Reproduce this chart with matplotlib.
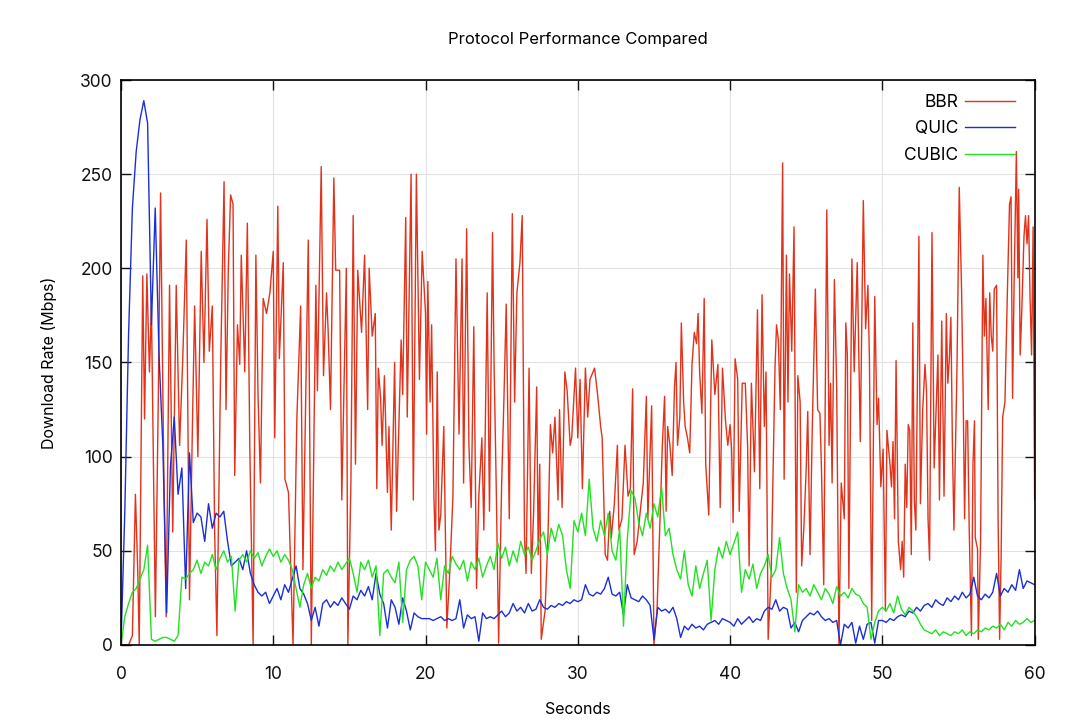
import numpy as np
import matplotlib
matplotlib.use("Agg")
import matplotlib.pyplot as plt

plt.rcParams['font.family'] = ['Inter', 'DejaVu Sans']

# BBR: times (s) and rates (Mbps), segment by segment
bbr_t = [
    0, 0.5, 0.75, 0.95, 1.1, 1.2, 1.43, 1.55, 1.7, 1.87, 2.0, 2.26, 2.45, 2.6, 2.8, 2.97, 3.19, 3.4, 3.63, 3.85,
    4.05, 4.29, 4.5, 4.7, 4.84, 5.05, 5.27, 5.45, 5.65, 5.8, 6.0, 6.15, 6.3, 6.55, 6.77, 6.9, 7.05, 7.2, 7.36, 7.47,
    7.65, 7.8, 7.9, 8.13, 8.3, 8.46, 8.68, 8.86, 9.0, 9.16, 9.34, 9.56, 9.78,
    10.0, 10.1, 10.3, 10.4, 10.66, 10.77, 11.0, 11.3, 11.55, 11.8, 11.95, 12.3, 12.5, 12.8, 12.9, 13.15, 13.3, 13.5,
    13.6, 13.76, 13.98, 14.1, 14.36, 14.5, 14.8, 14.9, 15.1, 15.25, 15.4, 15.55, 15.8, 16.0, 16.2, 16.3, 16.5, 16.7,
    16.8, 16.9, 17.05, 17.15, 17.3, 17.5, 17.6, 17.75, 17.97, 18.1, 18.4, 18.5, 18.7, 18.8, 19.05, 19.2, 19.4, 19.6, 19.78,
    20.0, 20.07, 20.15, 20.3, 20.4, 20.55, 20.65, 20.77, 20.88, 21.0, 21.2, 21.4, 21.6, 21.8, 22.0, 22.2, 22.4, 22.5,
    22.7, 22.85, 23.0, 23.17, 23.35, 23.5, 23.7, 23.83, 24.05, 24.2, 24.4, 24.5, 24.65, 24.8, 25.0, 25.15, 25.3, 25.5,
    25.7, 25.85, 26.0, 26.2, 26.35, 26.5, 26.6, 26.8, 26.95, 27.1, 27.3, 27.4, 27.5, 27.6, 27.85, 28.05, 28.2, 28.35,
    28.5, 28.7, 28.8, 28.97, 29.15, 29.3, 29.5, 29.6, 29.85,
    30.0, 30.15, 30.3, 30.5, 30.65, 30.8, 31.0, 31.1, 31.3, 31.5, 31.6, 31.8, 31.95, 32.1, 32.2, 32.4, 32.6, 32.7,
    32.9, 33.1, 33.3, 33.45, 33.6, 33.7, 33.9, 34.1, 34.3, 34.5, 34.6, 34.85, 35.0, 35.2, 35.4, 35.55, 35.7, 35.8,
    35.9, 36.05, 36.2, 36.35, 36.45, 36.55, 36.7, 36.8, 36.95, 37.05, 37.2, 37.35, 37.5, 37.65, 37.8, 37.9, 38.0,
    38.15, 38.3, 38.4, 38.6, 38.8, 39.0, 39.2, 39.35, 39.5, 39.7, 39.85,
    40.0, 40.1, 40.2, 40.33, 40.5, 40.6, 40.8, 41.0, 41.15, 41.25, 41.4, 41.6, 41.8, 41.95, 42.1, 42.25, 42.36, 42.5,
    42.7, 42.85, 42.95, 43.05, 43.17, 43.3, 43.45, 43.55, 43.7, 43.8, 43.9, 44.05, 44.2, 44.35, 44.45, 44.6, 44.7,
    44.85, 45.0, 45.1, 45.25, 45.4, 45.6, 45.75, 45.9, 46.0, 46.15, 46.35, 46.5, 46.6, 46.7, 46.85, 47.0, 47.15, 47.3,
    47.5, 47.6, 47.7, 47.8, 48.0, 48.15, 48.35, 48.55, 48.65, 48.75, 48.9, 49.05, 49.15, 49.3, 49.5, 49.65, 49.75, 49.9,
    50.05, 50.2, 50.3, 50.5, 50.6, 50.7, 50.8, 50.9, 51.05, 51.2, 51.3, 51.4, 51.5, 51.6, 51.7, 51.8, 51.9, 52.0,
    52.1, 52.2, 52.4, 52.5, 52.65, 52.8, 52.9, 53.0, 53.1, 53.26, 53.4, 53.55, 53.65, 53.75, 53.9, 54.05, 54.2, 54.3,
    54.4, 54.5, 54.6, 54.7, 54.9, 55.05, 55.2, 55.3, 55.4, 55.5, 55.6, 55.7, 55.85, 55.95, 56.05, 56.1, 56.25, 56.3,
    56.45, 56.6, 56.7, 56.8, 56.95, 57.05, 57.15, 57.25, 57.35, 57.5, 57.6, 57.7, 57.8, 57.9, 58.05, 58.2, 58.35,
    58.45, 58.55, 58.65, 58.8, 58.9, 58.95, 59.05, 59.15, 59.3, 59.4, 59.5, 59.6, 59.7, 59.8, 59.9, 60.0,
]
bbr_v = [
    0, 0, 5, 80, 40, 0, 196, 120, 197, 145, 180, 15, 130, 240, 100, 15, 191, 60, 191, 106,
    150, 215, 24, 120, 180, 100, 209, 150, 226, 156, 180, 61, 5, 150, 246, 125, 200, 239, 234, 90,
    170, 149, 207, 145, 224, 106, 0, 207, 133, 86, 184, 176, 187,
    209, 110, 233, 152, 203, 88, 81, 0, 120, 180, 40, 215, 0, 191, 135, 254, 143, 187,
    168, 125, 248, 199, 199, 77, 200, 0, 86, 228, 96, 199, 166, 207, 125, 200, 164, 176,
    83, 147, 131, 106, 143, 81, 116, 61, 150, 71, 162, 133, 227, 121, 250, 77, 250, 141, 209,
    176, 112, 193, 129, 170, 79, 50, 145, 61, 69, 116, 9, 40, 79, 205, 112, 205, 86,
    221, 106, 73, 169, 30, 79, 110, 61, 187, 71, 219, 150, 81, 1, 86, 131, 181, 67,
    229, 129, 187, 203, 228, 57, 38, 147, 38, 71, 137, 48, 96, 3, 18, 60, 117, 102,
    121, 77, 125, 73, 145, 135, 106, 110, 147,
    110, 141, 83, 147, 121, 141, 145, 147, 133, 116, 110, 48, 45, 71, 57, 75, 106, 61,
    67, 106, 79, 83, 136, 48, 55, 71, 86, 132, 67, 127, 0, 18, 67, 106, 132, 71,
    116, 106, 90, 137, 150, 106, 121, 171, 129, 116, 110, 102, 149, 166, 160, 176, 145,
    123, 184, 96, 69, 162, 133, 149, 73, 147, 119, 106,
    117, 104, 65, 152, 141, 71, 139, 139, 106, 42, 139, 92, 178, 83, 186, 116, 145, 3,
    38, 102, 147, 170, 162, 125, 256, 88, 207, 129, 197, 156, 222, 28, 143, 129, 42,
    63, 94, 124, 48, 116, 189, 125, 123, 94, 32, 231, 106, 139, 86, 194, 137, 0, 86,
    67, 171, 154, 30, 205, 145, 203, 108, 172, 236, 168, 191, 152, 13, 185, 117, 131, 84,
    104, 18, 114, 96, 84, 108, 67, 151, 55, 40, 55, 36, 96, 73, 117, 114, 48, 171,
    77, 61, 217, 75, 125, 149, 135, 67, 45, 219, 94, 129, 154, 77, 172, 79, 176, 139,
    152, 174, 106, 61, 147, 243, 189, 137, 67, 119, 119, 63, 5, 96, 119, 57, 51, 3,
    55, 207, 164, 184, 125, 187, 164, 156, 189, 191, 67, 3, 48, 121, 129, 184, 234,
    238, 131, 191, 262, 195, 242, 154, 176, 217, 228, 213, 228, 184, 154, 222, 77,
]

# QUIC and CUBIC: one value every 0.25 s, one row per 5 seconds
quic_v = [
    0, 70, 165, 232, 262, 279, 289, 277, 170, 232, 154, 106, 17, 95, 121, 80, 94, 30, 102, 65,
    70, 68, 55, 75, 62, 70, 68, 71, 55, 42, 44, 46, 40, 50, 38, 32, 28, 26, 28, 22,
    26, 30, 24, 32, 28, 35, 42, 30, 27, 22, 13, 20, 10, 22, 24, 20, 23, 21, 25, 22,
    19, 26, 24, 29, 26, 31, 24, 38, 27, 22, 9, 24, 20, 11, 25, 18, 8, 17, 15, 14,
    14, 14, 13, 14, 15, 13, 14, 13, 14, 24, 9, 16, 14, 15, 2, 17, 14, 15, 14, 16,
    18, 15, 17, 22, 18, 20, 17, 22, 18, 19, 24, 20, 19, 21, 20, 22, 21, 23, 22, 24,
    23, 24, 32, 27, 26, 28, 27, 30, 36, 27, 26, 28, 16, 32, 25, 24, 23, 26, 24, 21,
    3, 20, 18, 19, 17, 20, 14, 4, 10, 8, 11, 9, 10, 8, 11, 12, 13, 11, 14, 13,
    12, 10, 14, 11, 13, 15, 12, 14, 13, 18, 20, 19, 24, 18, 20, 19, 9, 12, 7, 13,
    15, 17, 16, 18, 15, 13, 14, 12, 13, 0, 11, 9, 12, 1, 10, 3, 11, 12, 1, 13,
    13, 12, 14, 13, 15, 16, 15, 18, 17, 20, 18, 21, 22, 20, 24, 22, 21, 25, 23, 26,
    24, 28, 25, 27, 36, 26, 24, 27, 25, 28, 38, 26, 30, 28, 32, 29, 40, 30, 34, 33,
    32,
]
cubic_v = [
    0, 15, 22, 28, 30, 35, 40, 53, 3, 2, 3, 4, 4, 3, 2, 5, 36, 35, 38, 40,
    45, 38, 44, 42, 48, 40, 46, 50, 44, 47, 18, 45, 48, 44, 50, 46, 49, 42, 47, 51,
    47, 50, 44, 48, 45, 40, 30, 20, 32, 38, 30, 36, 34, 40, 37, 42, 39, 44, 40, 43,
    46, 38, 28, 44, 40, 45, 36, 42, 5, 38, 40, 36, 33, 44, 12, 40, 45, 47, 42, 24,
    44, 40, 36, 46, 24, 42, 38, 47, 43, 40, 45, 34, 44, 40, 46, 36, 42, 47, 40, 54,
    46, 52, 42, 50, 44, 55, 48, 52, 45, 50, 56, 60, 48, 62, 55, 64, 58, 40, 30, 66,
    60, 70, 58, 88, 62, 55, 66, 58, 70, 50, 45, 62, 10, 56, 82, 78, 65, 58, 70, 62,
    75, 68, 84, 58, 62, 48, 40, 35, 50, 32, 26, 42, 30, 38, 45, 13, 40, 52, 46, 55,
    48, 54, 60, 28, 40, 35, 43, 30, 38, 42, 48, 36, 40, 57, 38, 30, 24, 7, 32, 28,
    30, 26, 32, 28, 24, 30, 27, 22, 31, 26, 28, 25, 30, 27, 26, 22, 20, 3, 12, 18,
    20, 18, 22, 17, 26, 19, 16, 20, 18, 15, 11, 8, 7, 6, 8, 5, 7, 6, 5, 7,
    6, 8, 5, 7, 6, 8, 7, 9, 8, 10, 9, 11, 8, 12, 10, 13, 11, 12, 14, 12,
    13,
]
quic_t = np.linspace(0, 60, len(quic_v))
cubic_t = np.linspace(0, 60, len(cubic_v))

fig = plt.figure(figsize=(10.8, 7.26), dpi=100)
ax = fig.add_axes([0.112, 0.1116, 0.846, 0.7782])

ax.plot(bbr_t, bbr_v, color='#e2321a', lw=1.0, label='BBR')
ax.plot(quic_t, quic_v, color='#1a2fd6', lw=1.0, label='QUIC')
ax.plot(cubic_t, cubic_v, color='#22e022', lw=1.0, label='CUBIC')

ax.set_xlim(0, 60)
ax.set_ylim(0, 300)
ax.set_xticks(range(0, 61, 10))
ax.set_yticks(range(0, 301, 50))
ax.grid(True, color='#e2e2e2', lw=0.8)
ax.set_axisbelow(True)
ax.tick_params(direction='in', length=7, width=1, top=True, right=True,
               labelsize=12.5, colors='#111111')
ax.tick_params(axis='x', pad=15)
ax.tick_params(axis='y', pad=6)
for s in ax.spines.values():
    s.set_linewidth(1.2)

ax.set_xlabel('Seconds', fontsize=11.5, labelpad=14)
ax.set_ylabel('Download Rate (Mbps)', fontsize=11.5, labelpad=17)
ax.set_title('Protocol Performance Compared', fontsize=12, pad=26)

# gnuplot-style key: label first, sample line on the right
ax.legend(loc='upper right', bbox_to_anchor=(0.9934, 1.0), frameon=False,
          markerfirst=False, fontsize=12.5, handlelength=2.85,
          handletextpad=0.4, labelspacing=0.55, borderaxespad=0.4)

fig.savefig('out.png', dpi=100)
